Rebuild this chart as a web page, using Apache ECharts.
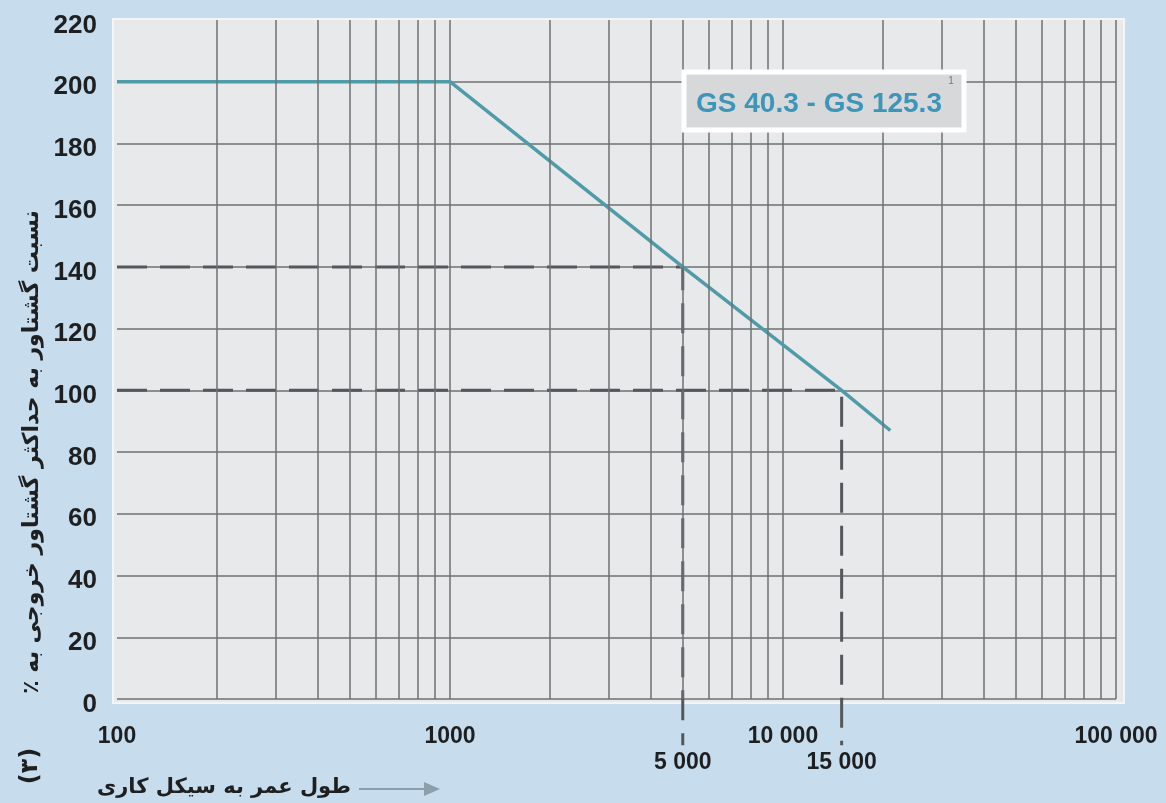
<!DOCTYPE html>
<html>
<head>
<meta charset="utf-8">
<script src="https://cdn.jsdelivr.net/npm/echarts@6/dist/echarts.min.js"></script>
<style>
  html, body { margin: 0; padding: 0; background: #c7dded; }
  #chart { width: 1166px; height: 803px; }
</style>
</head>
<body>
<div id="chart"></div>
<script>
// Torque-ratio curve versus service life (cycles), log scale
const lifeCycles   = [100, 1000, 5000, 15000, 21000];
const torqueRatio  = [200, 200, 140, 100, 87];

// Reference readings shown with dashed guides
const guideCycles  = [5000, 15000];
const guideRatio   = [140, 100];
const guideLabels  = ['5 000', '15 000'];
const guideDropTo  = -15;   // guides run a little below the axis

// Axis labels
const xTickLabels  = { 100: '100', 1000: '1000', 10000: '10 000', 100000: '100 000' };
const yTicks       = [0, 20, 40, 60, 80, 100, 120, 140, 160, 180, 200, 220];

// Intermediate log-grid values (2..9 of each decade)
const minorGrid = [];
[100, 1000, 10000].forEach(function (d) {
  for (let k = 2; k <= 9; k++) minorGrid.push(k * d);
});

// RLM keeps the percent sign inside the right-to-left run
const yTitle  = 'نسبت گشتاور به حداکثر گشتاور خروجی به ٪\u200F';
const figNo   = '(۳)';
const xTitle  = 'طول عمر به سیکل کاری';
const boxText = 'GS 40.3 - GS 125.3';

const gridColor = '#6e7072';
const curveData = lifeCycles.map(function (c, i) { return [c, torqueRatio[i]]; });

const guideSeries = [];
guideCycles.forEach(function (c, i) {
  guideSeries.push({
    type: 'line',
    data: [[lifeCycles[0], guideRatio[i]], [c, guideRatio[i]], [c, guideDropTo]],
    symbol: 'none',
    clip: false,
    silent: true,
    z: 3,
    lineStyle: { color: '#55585b', width: 3, type: [30, 13] }
  });
});

const chart = echarts.init(document.getElementById('chart'), null, { renderer: 'canvas' });

chart.setOption({
  backgroundColor: '#c7dded',
  animation: false,
  grid: { left: 117, right: 50, top: 20, bottom: 104 },
  xAxis: {
    type: 'log',
    logBase: 10,
    min: 100,
    max: 100000,
    axisLine: { show: false },
    axisTick: { show: false },
    splitLine: { show: true, showMinLine: false, lineStyle: { color: gridColor, width: 1.5 } },
    axisLabel: {
      margin: 26,
      color: '#1e1f20',
      fontFamily: 'Liberation Sans',
      fontWeight: 'bold',
      fontSize: 23,
      formatter: function (v) { return xTickLabels[Math.round(v)] || ''; }
    }
  },
  yAxis: {
    type: 'value',
    min: 0,
    max: 220,
    interval: 20,
    axisLine: { show: false },
    axisTick: { show: false },
    splitLine: { show: true, showMaxLine: false, lineStyle: { color: gridColor, width: 1.5 } },
    axisLabel: {
      margin: 20,
      verticalAlign: 'top',
      lineHeight: 11,
      color: '#1e1f20',
      fontFamily: 'Liberation Sans',
      fontWeight: 'bold',
      fontSize: 26,
      formatter: function (v) { return yTicks.indexOf(v) >= 0 ? String(v) : ''; }
    }
  },
  graphic: [
    {
      type: 'rect', z: -10, silent: true,
      shape: { x: 113, y: 19, width: 1011, height: 684 },
      style: { fill: '#e8e9eb', stroke: '#f3f5f6', lineWidth: 2 }
    },
    {
      type: 'rect', z: 10, silent: true,
      shape: { x: 684, y: 72, width: 280, height: 58 },
      style: { fill: '#d7d8da', stroke: '#ffffff', lineWidth: 5 }
    },
    {
      type: 'text', z: 11, silent: true,
      x: 819, y: 104,
      style: {
        text: boxText, align: 'center', verticalAlign: 'middle',
        font: 'bold 28px "Liberation Sans"', fill: '#3d95b8'
      }
    },
    {
      type: 'text', z: 11, silent: true,
      x: 951, y: 81,
      style: { text: '1', align: 'center', verticalAlign: 'middle', font: '10px "Liberation Sans"', fill: '#777' }
    },
    {
      type: 'text', silent: true,
      x: 32, y: 452, rotation: Math.PI / 2,
      style: {
        text: yTitle, align: 'center', verticalAlign: 'middle',
        font: 'bold 22px "DejaVu Sans"', fill: '#1e1f20'
      }
    },
    {
      type: 'text', silent: true,
      x: 31, y: 766, rotation: Math.PI / 2,
      style: {
        text: figNo, align: 'center', verticalAlign: 'middle',
        font: 'bold 24px "DejaVu Sans"', fill: '#1e1f20'
      }
    },
    {
      type: 'text', silent: true,
      x: 224, y: 788,
      style: {
        text: xTitle, align: 'center', verticalAlign: 'middle',
        font: 'bold 21px "DejaVu Sans"', fill: '#1e1f20'
      }
    },
    {
      type: 'line', silent: true,
      shape: { x1: 359, y1: 789, x2: 428, y2: 789 },
      style: { stroke: '#8c9fab', lineWidth: 2 }
    },
    {
      type: 'polygon', silent: true,
      shape: { points: [[440, 789], [424, 782], [424, 796]] },
      style: { fill: '#8c9fab' }
    }
  ],
  series: [
    {
      type: 'line',
      data: [],
      silent: true,
      markLine: {
        silent: true,
        symbol: 'none',
        label: { show: false },
        lineStyle: { color: gridColor, width: 1.5, type: 'solid' },
        data: minorGrid.map(function (v) { return { xAxis: v }; })
      }
    },
    {
      type: 'line',
      data: curveData,
      symbol: 'none',
      silent: true,
      z: 4,
      lineStyle: { color: '#4f9ca8', width: 3.5 }
    }
  ].concat(guideSeries).concat([
    {
      type: 'scatter',
      data: guideCycles.map(function (c) { return [c, guideDropTo]; }),
      symbolSize: 0,
      clip: false,
      silent: true,
      itemStyle: { opacity: 1 },
      label: {
        show: true,
        position: 'bottom',
        distance: 6,
        opacity: 1,
        color: '#1e1f20',
        fontFamily: 'Liberation Sans',
        fontWeight: 'bold',
        fontSize: 23,
        formatter: function (p) { return guideLabels[p.dataIndex]; }
      }
    }
  ])
});
</script>
</body>
</html>
